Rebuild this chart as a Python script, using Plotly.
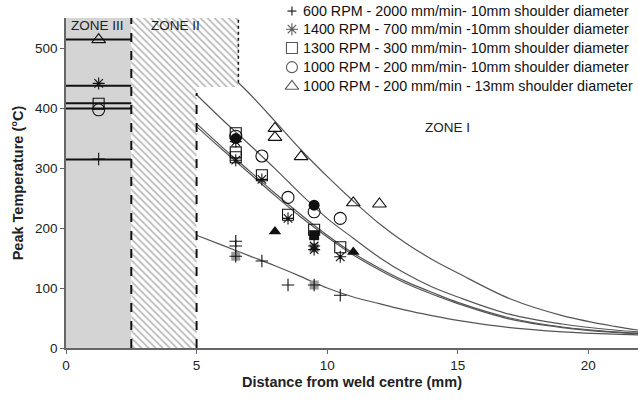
import plotly.graph_objects as go

# ---------------- data ----------------
series_names = [
    "600 RPM - 2000 mm/min- 10mm shoulder diameter",
    "1400 RPM - 700 mm/min -10mm shoulder diameter",
    "1300 RPM - 300 mm/min- 10mm shoulder diameter",
    "1000 RPM - 200 mm/min- 10mm shoulder diameter",
    "1000 RPM - 200 mm/min - 13mm shoulder diameter",
]
symbols = ["cross-thin-open", "asterisk-open", "square-open", "circle-open", "triangle-up-open"]

# Zone III (weld nugget) peak levels
zone3_marker_x = 1.25
zone3_levels = [314, 437, 408, 399, 514]
zone3_marker_y = [315, 441, 407, 397, 514]

# Zone I measured points
plus_x = [6.5, 6.5, 6.5, 7.5, 8.5, 9.5, 10.5]
plus_y = [178, 170, 153, 145, 105, 105, 88]
ast_x = [6.5, 6.5, 7.5, 8.5, 9.5, 9.5, 10.5]
ast_y = [344, 313, 281, 216, 170, 164, 152]
sq_x = [6.5, 6.5, 6.5, 7.5, 8.5, 9.5, 10.5]
sq_y = [358, 326, 318, 288, 222, 197, 168]
circ_x = [6.5, 7.5, 8.5, 9.5, 10.5]
circ_y = [353, 320, 251, 227, 216]
tri_x = [8.0, 8.0, 9.0, 11.0, 12.0]
tri_y = [366, 351, 319, 242, 240]

# filled (black) and grey extra points
black_circ_x = [6.5, 9.5]
black_circ_y = [349, 238]
black_sq_x = [9.5]
black_sq_y = [188]
black_tri_x = [8.0, 11.0]
black_tri_y = [194, 160]
grey_sq_x = [6.5, 9.5, 9.5]
grey_sq_y = [153, 105, 167]

# fitted curves in Zone I
curve_x = [5, 6, 7, 8, 9, 10, 11, 12, 13, 14, 15, 17, 19, 21, 21.9]
curve_plus = [188, 171, 154, 137, 119, 100, 85, 74, 63, 54, 46, 34, 27, 23, 22]
curve_ast = [369, 330, 292, 254, 218, 185, 155, 130, 108, 90, 74, 48, 34, 26, 24]
curve_sq = [374, 334, 296, 258, 222, 188, 158, 133, 111, 93, 76, 50, 35, 27, 25]
curve_circ = [422, 380, 340, 299, 256, 216, 183, 151, 124, 102, 85, 56, 40, 30, 27]
curve_tri_x = [6.6, 7, 8, 9, 10, 11, 12, 13, 14, 15, 17, 19, 21, 21.9]
curve_tri = [442, 425, 378, 330, 286, 245, 207, 175, 148, 125, 82, 54, 36, 30]

# zone boundaries (mm) and top of chart (°C)
zone3_edge = 2.5
zone2_edge = 5.0
zone2_step_x = 6.6
zone2_step_y = 435
zone_top = 550
dash5_top = 425

x_ticks = [0, 5, 10, 15, 20]
y_ticks = [0, 100, 200, 300, 400, 500]

# legend layout (paper fractions)
legend_key_x = 0.395
legend_text_x = 0.411
legend_rows_y = [1.021, 0.966, 0.909, 0.851, 0.793]
PLOT_W, PLOT_H = 572, 330  # plot area in px

FONT = "Liberation Sans, Arial, sans-serif"
INK = "#111"

fig = go.Figure()

# Zone II hatched region
fig.add_trace(go.Scatter(
    x=[zone3_edge, zone2_edge, zone2_edge, zone2_step_x, zone2_step_x, zone3_edge, zone3_edge],
    y=[0, 0, zone2_step_y, zone2_step_y, zone_top, zone_top, 0],
    fill="toself", mode="none", fillcolor="rgba(0,0,0,0)",
    fillpattern=dict(shape="\\", fgcolor="#7a7a7a", bgcolor="white", size=5, solidity=0.35),
    showlegend=False, hoverinfo="skip"))

# Zone III horizontal levels
for lvl in zone3_levels:
    fig.add_trace(go.Scatter(x=[0, zone3_edge], y=[lvl, lvl], mode="lines",
                             line=dict(color=INK, width=2), showlegend=False, hoverinfo="skip"))

# curves
for cx, cy in [(curve_x, curve_plus), (curve_x, curve_ast), (curve_x, curve_sq),
               (curve_x, curve_circ), (curve_tri_x, curve_tri)]:
    fig.add_trace(go.Scatter(x=cx, y=cy, mode="lines", line=dict(color="#555", width=1.2, shape="spline"),
                             showlegend=False, hoverinfo="skip"))

# grey squares behind
fig.add_trace(go.Scatter(x=grey_sq_x, y=grey_sq_y, mode="markers",
                         marker=dict(symbol="square", size=9, color="#9a9a9a"), showlegend=False))

# black filled points
fig.add_trace(go.Scatter(x=black_circ_x, y=black_circ_y, mode="markers",
                         marker=dict(symbol="circle", size=11, color=INK), showlegend=False))
fig.add_trace(go.Scatter(x=black_sq_x, y=black_sq_y, mode="markers",
                         marker=dict(symbol="square", size=10, color=INK), showlegend=False))
fig.add_trace(go.Scatter(x=black_tri_x, y=black_tri_y, mode="markers",
                         marker=dict(symbol="triangle-up", size=11, color=INK), showlegend=False))

# series markers
pts = [(plus_x, plus_y), (ast_x, ast_y), (sq_x, sq_y), (circ_x, circ_y), (tri_x, tri_y)]
sizes = [9, 10, 11, 12, 12]
for i, (px, py) in enumerate(pts):
    fig.add_trace(go.Scatter(
        x=[zone3_marker_x] + px, y=[zone3_marker_y[i]] + py, mode="markers", name=series_names[i],
        showlegend=False,
        marker=dict(symbol=symbols[i], size=sizes[i], color=INK, line=dict(color=INK, width=1.1))))

# legend keys (rows inside the plot area) on an overlay paper-like axis
fig.add_trace(go.Scatter(
    x=[legend_key_x] * 4, y=legend_rows_y[1:], xaxis="x2", yaxis="y2", mode="markers",
    cliponaxis=False, showlegend=False, hoverinfo="skip",
    marker=dict(symbol=symbols[1:], size=[10, 11, 11, 12], color=INK, line=dict(color=INK, width=1.1))))

hx = 4.5 / PLOT_W
hy = 4.5 / PLOT_H
shapes = [
    dict(type="rect", xref="x", yref="y", x0=0, x1=zone3_edge, y0=0, y1=zone_top,
         fillcolor="#d4d4d4", line=dict(width=0), layer="below"),
    dict(type="line", xref="x", yref="y", x0=zone3_edge, x1=zone3_edge, y0=0, y1=zone_top,
         line=dict(color=INK, width=2, dash="dash")),
    dict(type="line", xref="x", yref="y", x0=zone2_edge, x1=zone2_edge, y0=0, y1=dash5_top,
         line=dict(color=INK, width=2, dash="dash")),
    dict(type="line", xref="x", yref="y", x0=zone2_step_x, x1=zone2_step_x, y0=curve_tri[0], y1=zone_top,
         line=dict(color=INK, width=1.5, dash="dot")),
    # "+" key of the first legend row (sits above the plot area)
    dict(type="line", xref="paper", yref="paper", x0=legend_key_x - hx, x1=legend_key_x + hx,
         y0=legend_rows_y[0], y1=legend_rows_y[0], line=dict(color=INK, width=1.1)),
    dict(type="line", xref="paper", yref="paper", x0=legend_key_x, x1=legend_key_x,
         y0=legend_rows_y[0] - hy, y1=legend_rows_y[0] + hy, line=dict(color=INK, width=1.1)),
]

annotations = [
    dict(x=1.2, y=538, xref="x", yref="y", text="ZONE III", showarrow=False,
         font=dict(size=13.5, color="#222", family=FONT)),
    dict(x=4.2, y=538, xref="x", yref="y", text="ZONE II", showarrow=False,
         font=dict(size=13.5, color="#222", family=FONT)),
    dict(x=14.6, y=367, xref="x", yref="y", text="ZONE I", showarrow=False,
         font=dict(size=13.5, color="#222", family=FONT)),
]
for name, ly in zip(series_names, legend_rows_y):
    annotations.append(dict(x=legend_text_x, y=ly, xref="paper", yref="paper", text=name,
                            showarrow=False, xanchor="left", yanchor="middle",
                            font=dict(size=14.3, color=INK, family=FONT)))

fig.update_layout(
    width=638, height=402,
    margin=dict(l=66, r=0, t=18, b=54),
    paper_bgcolor="white", plot_bgcolor="white",
    font=dict(family=FONT, size=13, color="#222"),
    shapes=shapes, annotations=annotations, showlegend=False,
    xaxis=dict(range=[0, 21.9], tickvals=x_ticks, showgrid=False, zeroline=False, automargin=False,
               showline=True, linecolor="#666", linewidth=1.5, ticks="outside", ticklen=4,
               tickcolor="#666", tickfont=dict(size=13.5, color="#222"),
               title=dict(text="<b>Distance from weld centre (mm)</b>", font=dict(size=14.5), standoff=5)),
    yaxis=dict(range=[0, 550], tickvals=y_ticks, showgrid=False, zeroline=False, automargin=False,
               showline=True, linecolor="#666", linewidth=1.5, ticks="outside", ticklen=4,
               tickcolor="#666", tickfont=dict(size=13.5, color="#222"),
               title=dict(text="<b>Peak Temperature (°C)</b>", font=dict(size=14.5), standoff=8)),
    xaxis2=dict(overlaying="x", range=[0, 1], visible=False, fixedrange=True),
    yaxis2=dict(overlaying="y", range=[0, 1], visible=False, fixedrange=True),
)

fig.write_html("out.html", config={"displayModeBar": False},
               post_script="document.body.style.margin='0';document.body.style.overflow='hidden';")
